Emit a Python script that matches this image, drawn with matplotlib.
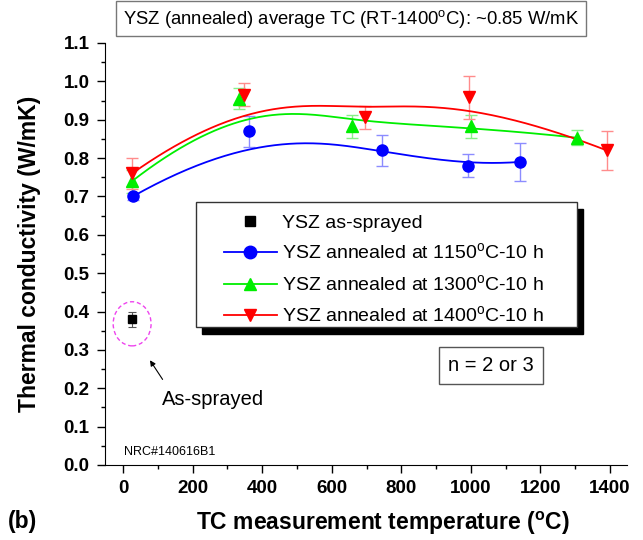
import numpy as np
import matplotlib
matplotlib.use("Agg")
import matplotlib.pyplot as plt
from matplotlib.patches import Ellipse, Rectangle
from matplotlib.lines import Line2D
import matplotlib.transforms as mtransforms

plt.rcParams['font.family'] = ['Liberation Sans', 'DejaVu Sans']
plt.rcParams['mathtext.fontset'] = 'custom'
plt.rcParams['mathtext.rm'] = 'Liberation Sans'
plt.rcParams['mathtext.bf'] = 'Liberation Sans:bold'

# as-sprayed
asp_x = [25]
asp_y = [0.38]
asp_err = [0.02]

# annealed 1150 C
t1150 = [28, 361, 744, 993, 1142]
k1150 = [0.70, 0.87, 0.82, 0.78, 0.79]
e1150 = [0.01, 0.04, 0.04, 0.03, 0.05]

# annealed 1300 C
t1300 = [26, 333, 657, 1000, 1305]
k1300 = [0.74, 0.955, 0.883, 0.883, 0.853]
e1300 = [0.03, 0.028, 0.03, 0.03, 0.02]

# annealed 1400 C
t1400 = [26, 347, 695, 996, 1391]
k1400 = [0.76, 0.965, 0.906, 0.958, 0.82]
e1400 = [0.04, 0.03, 0.03, 0.055, 0.05]

deg = r'$^\mathrm{o}$'
labels = ['YSZ as-sprayed',
          'YSZ annealed at 1150' + deg + 'C-10 h',
          'YSZ annealed at 1300' + deg + 'C-10 h',
          'YSZ annealed at 1400' + deg + 'C-10 h']


def bspline(x, y, num=300, k=3):
    # clamped B-spline with the data points as control points (like Origin)
    pts = np.column_stack([x, y]).astype(float)
    n = len(pts)
    k = min(k, n - 1)
    knots = np.concatenate([np.zeros(k), np.linspace(0, 1, n - k + 1), np.ones(k)])
    u = np.linspace(0, 1, num)
    u[-1] = 1 - 1e-10
    N = np.zeros((num, len(knots) - 1))
    for i in range(len(knots) - 1):
        N[:, i] = (knots[i] <= u) & (u < knots[i + 1])
    for d in range(1, k + 1):
        Nn = np.zeros((num, len(knots) - 1 - d))
        for i in range(len(knots) - 1 - d):
            a = knots[i + d] - knots[i]
            b = knots[i + d + 1] - knots[i + 1]
            t1 = (u - knots[i]) / a * N[:, i] if a > 0 else 0
            t2 = (knots[i + d + 1] - u) / b * N[:, i + 1] if b > 0 else 0
            Nn[:, i] = t1 + t2
        N = Nn
    c = N @ pts
    return c[:, 0], c[:, 1]


fig = plt.figure(figsize=(6.43, 5.4), dpi=100)
ax = fig.add_axes([0.1633, 0.1389, 0.8118, 0.7815])

series = [
    (t1150, k1150, e1150, 'blue', '#8c8cff', 'o'),
    (t1300, k1300, e1300, '#00ee00', '#88f088', '^'),
    (t1400, k1400, e1400, 'red', '#ff8c8c', 'v'),
]
handles = [Line2D([], [], ls='none', marker='s', color='black', markersize=7)]
for t, k, e, col, ecol, mk in series:
    ax.errorbar(t, k, yerr=e, fmt='none', ecolor=ecol, elinewidth=1, capsize=4, capthick=1, zorder=2)
    sx, sy = bspline(t, k)
    ax.plot(sx, sy, color=col, lw=1.3, zorder=3)
    ax.plot(t, k, ls='none', marker=mk, color=col, markersize=8, zorder=4)
    handles.append(Line2D([], [], color=col, lw=1.3, marker=mk, markersize=9))

ax.errorbar(asp_x, asp_y, yerr=asp_err, fmt='s', color='black', ecolor='#555555',
            elinewidth=0.8, capsize=3, capthick=0.8, markersize=6, zorder=4)

# dashed circle around the as-sprayed point
ax.add_patch(Ellipse((asp_x[0] + 1, asp_y[0] - 0.012), width=109, height=0.115, fill=False,
                     ec='#ee44ee', ls=(0, (3, 2)), lw=1))
ax.annotate('', xy=(73, 0.279), xytext=(118, 0.217),
            arrowprops=dict(arrowstyle='-|>', color='black', lw=0.8, mutation_scale=8))
ax.text(111, 0.172, 'As-sprayed', fontsize=14.5, va='center', ha='left')
ax.text(4, 0.034, 'NRC#140616B1', fontsize=9, va='center', ha='left')

ax.text(0.74, 0.235, 'n = 2 or 3', transform=ax.transAxes, fontsize=14.5, ha='center', va='center',
        bbox=dict(boxstyle='square,pad=0.45', fc='white', ec='#555555', lw=1))

# legend frame with a solid shadow
x0, y0, w, h = 0.1743, 0.3277, 0.7299, 0.2962
shadow_tr = mtransforms.offset_copy(ax.transAxes, fig=fig, x=6, y=-7, units='dots')
ax.add_patch(Rectangle((x0, y0), w, h, transform=shadow_tr, fc='black', ec='black', zorder=5))
ax.add_patch(Rectangle((x0, y0), w, h, transform=ax.transAxes, fc='white', ec='#333333', lw=1, zorder=6))
leg = ax.legend(handles, labels, loc='upper left', bbox_to_anchor=(0.228, 0.595),
                frameon=False, fontsize=14, borderpad=0, borderaxespad=0,
                handlelength=2.7, handletextpad=0.3, labelspacing=0.56)
leg.set_zorder(7)

ax.set_xlim(-52, 1449)
ax.set_ylim(0, 1.1)
ax.set_xticks(np.arange(0, 1401, 200))
ax.set_xticks(np.arange(0, 1401, 100), minor=True)
ax.set_yticks(np.arange(0, 1.101, 0.1))
ax.set_yticks(np.arange(0, 1.101, 0.05), minor=True)
ax.yaxis.set_major_formatter(matplotlib.ticker.FormatStrFormatter('%.1f'))
ax.spines['top'].set_visible(False)
ax.spines['right'].set_visible(False)
ax.tick_params(which='major', direction='out', length=6, width=1, labelsize=13.5, pad=5)
ax.tick_params(which='minor', direction='out', length=3, width=1)
for lab in ax.get_xticklabels() + ax.get_yticklabels():
    lab.set_fontweight('bold')

ax.set_xlabel('TC measurement temperature (' + r'$^\mathbf{o}$' + 'C)', fontsize=16.5,
              fontweight='bold')
ax.xaxis.set_label_coords(0.532, -0.105)
ax.set_ylabel('Thermal conductivity (W/mK)', fontsize=16.5, fontweight='bold')
ax.yaxis.set_label_coords(-0.123, 0.5)

fig.text(0.546, 0.965, 'YSZ (annealed) average TC (RT-1400' + deg + 'C): ~0.85 W/mK',
         fontsize=13.3, ha='center', va='center',
         bbox=dict(boxstyle='square,pad=0.35', fc='white', ec='#777777', lw=1))
fig.text(0.012, 0.035, '(b)', fontsize=16.5, fontweight='bold', ha='left', va='center')

fig.savefig('out.png', dpi=100)
